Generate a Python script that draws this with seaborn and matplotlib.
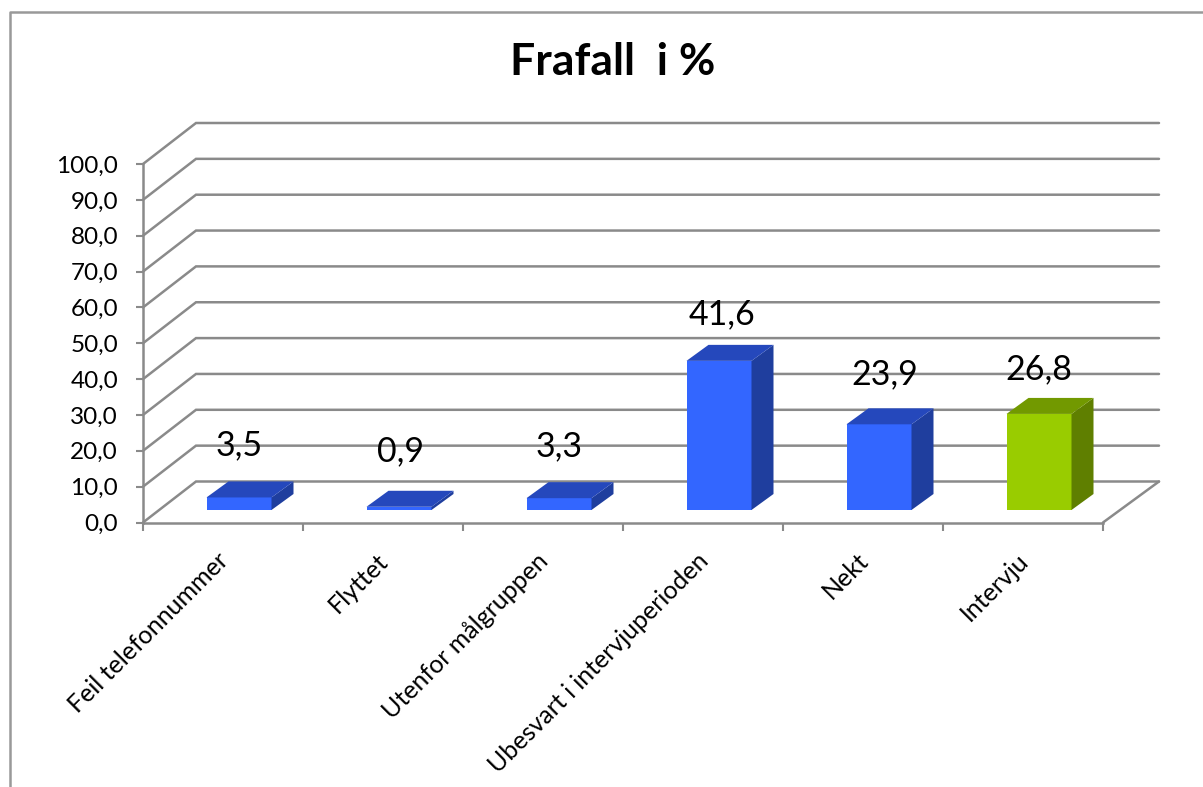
import numpy as np
import pandas as pd
import seaborn as sns
import matplotlib.pyplot as plt
from matplotlib.lines import Line2D
from matplotlib.patches import Polygon
from matplotlib.transforms import ScaledTranslation

# Chart data
categories = ["Feil telefonnummer", "Flyttet", "Utenfor målgruppen",
              "Ubesvart i intervjuperioden", "Nekt", "Intervju"]
values = [3.5, 0.9, 3.3, 41.6, 23.9, 26.8]
value_labels = ["3,5", "0,9", "3,3", "41,6", "23,9", "26,8"]
y_ticks = [0, 10, 20, 30, 40, 50, 60, 70, 80, 90, 100]
y_tick_labels = ["0,0", "10,0", "20,0", "30,0", "40,0", "50,0",
                 "60,0", "70,0", "80,0", "90,0", "100,0"]
title = "Frafall  i %"

# Colours: front, side, top of each bar
front = ["#3366FF"] * 5 + ["#99CC00"]
side = ["#1F3E9E"] * 5 + ["#5F7F00"]
top = ["#2548BC"] * 5 + ["#729900"]
grid = "#8A8A8A"

W, H = 1203, 787

sns.set_theme(style="white")
plt.rcParams["font.family"] = ["Lato", "DejaVu Sans"]

fig = plt.figure(figsize=(W / 100, H / 100), dpi=100)


def px_axes(x0, x1, y_bottom, y_top):
    return fig.add_axes([x0 / W, 1 - y_bottom / H, (x1 - x0) / W, (y_bottom - y_top) / H])


# Frame axes, the front edge of the 3D box
ax = px_axes(143, 1103, 522.5, 164)
ax.set_xlim(-0.5, 5.5)
ax.set_ylim(0, 100)
for s in ["top", "right"]:
    ax.spines[s].set_visible(False)
for s in ["left", "bottom"]:
    ax.spines[s].set_color(grid)
    ax.spines[s].set_linewidth(1.8)

ax.set_yticks(y_ticks)
ax.set_yticklabels(y_tick_labels, fontsize=17.5, color="black")
ax.tick_params(axis="y", left=True, length=5, width=1.5, color=grid, pad=13)

ax.set_xticks(np.arange(-0.5, 6), minor=True)
ax.tick_params(axis="x", which="minor", bottom=True, length=6, width=1.5, color=grid)
ax.set_xticks(range(6))
ax.set_xticklabels(categories, fontsize=18, color="black", rotation=45, ha="right",
                   va="top", rotation_mode="anchor")
ax.tick_params(axis="x", which="major", bottom=False, pad=13)
for lab in ax.get_xticklabels():
    lab.set_transform(lab.get_transform() + ScaledTranslation(-5 / 72, 0, fig.dpi_scale_trans))

# Back wall and side gridlines
wall_dx = 53 / 160
wall_dy = 41 / 3.585
wall_end = 5.5 + 56 / 160
for v in y_ticks:
    ax.plot([-0.5, -0.5 + wall_dx, wall_end], [v, v + wall_dy, v + wall_dy],
            color=grid, lw=1.8, clip_on=False, solid_joinstyle="miter")
ax.plot([5.5, wall_end], [0, wall_dy], color=grid, lw=1.8, clip_on=False)

# Bars sit on the floor, so they get their own shifted axes
bar_shift_x, bar_shift_y = 16, 12.5
bar_ax = px_axes(143 + bar_shift_x, 1103 + bar_shift_x, 522.5 - bar_shift_y, 164 - bar_shift_y)
bar_ax.patch.set_alpha(0)

df = pd.DataFrame({"category": categories, "value": values})
sns.barplot(data=df, x="category", y="value", hue="category", palette=front,
            saturation=1, width=65 / 160, linewidth=0, legend=False, ax=bar_ax)
bar_ax.set_xlim(-0.5, 5.5)
bar_ax.set_ylim(0, 100)
bar_ax.axis("off")

# Side and top faces plus the value labels
depth_dx = 22 / 160
depth_dy = 16 / 3.585
label_gap = [52, 56, 52, 47, 50, 45]
label_nudge = [0, 1, 0, 3, 6, 0]
for i, bar in enumerate(bar_ax.patches[:6]):
    x0 = bar.get_x()
    x1 = x0 + bar.get_width()
    h = bar.get_height()
    bar_ax.add_patch(Polygon([(x1, 0), (x1 + depth_dx, depth_dy), (x1 + depth_dx, h + depth_dy), (x1, h)],
                             closed=True, facecolor=side[i], edgecolor="none", clip_on=False))
    bar_ax.add_patch(Polygon([(x0, h), (x0 + depth_dx, h + depth_dy), (x1 + depth_dx, h + depth_dy), (x1, h)],
                             closed=True, facecolor=top[i], edgecolor="none", clip_on=False))
    bar_ax.annotate(value_labels[i], (x0 + bar.get_width() / 2, h),
                    xytext=(label_nudge[i] * 0.72, label_gap[i] * 0.72),
                    textcoords="offset points", ha="center", va="center", fontsize=24.5,
                    color="black", annotation_clip=False)

# Chart title and the outer frame (only left and top are in the crop)
fig.text(613 / W, 1 - 62 / H, title, fontsize=32, fontweight="bold", color="black",
         ha="center", va="center")
fig.add_artist(Line2D([9.5 / W, 9.5 / W, 1], [0, 1 - 11.5 / H, 1 - 11.5 / H],
                      color="#999999", lw=1.8, transform=fig.transFigure))

fig.savefig("out.png", dpi=100)
